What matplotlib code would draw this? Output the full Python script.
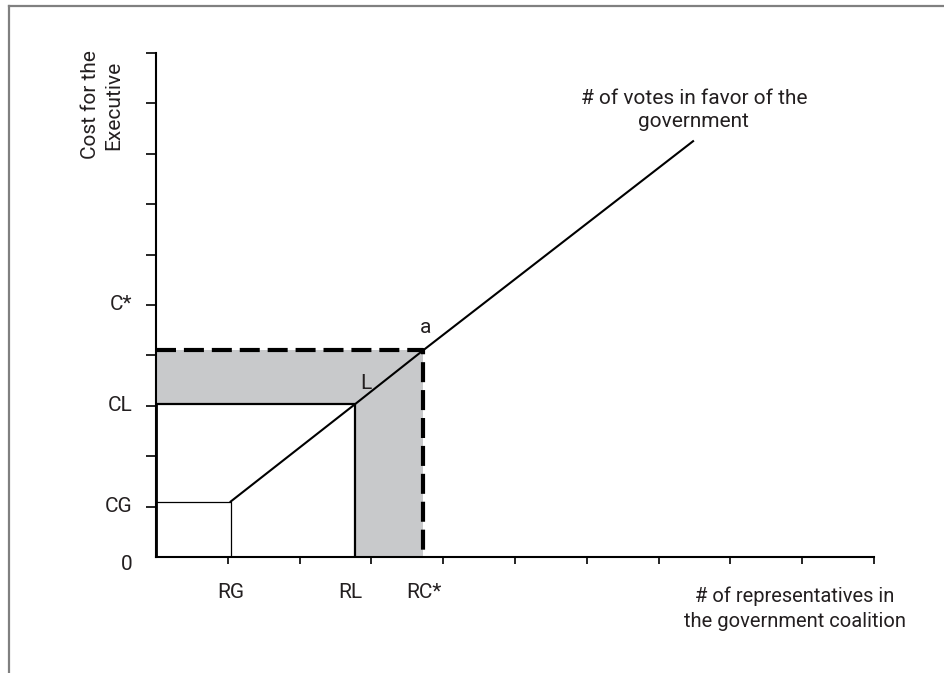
import matplotlib
matplotlib.use('Agg')
import matplotlib.pyplot as plt
from matplotlib.lines import Line2D

plt.rcParams['font.family'] = ['Roboto', 'DejaVu Sans']

# Key points of the diagram (data units)
RG, CG = 1.04, 1.1
RL, CL = 2.77, 3.03
RC, CSTAR = 3.72, 4.1
line_end = (7.48, 8.25)

# Cost curve points
curve_x = [RG, RL, RC, line_end[0]]
curve_y = [CG, CL, CSTAR, line_end[1]]

y_tick_pos = list(range(1, 11))
x_tick_pos = list(range(1, 11))
y_labels = {0: '0', 1: 'CG', 3: 'CL', 5: 'C*'}
x_labels = {RG: 'RG', 2.7: 'RL', 3.73: 'RC*'}

TXT = '#231f20'
GREY = '#c8c9cb'
FS = 15

fig = plt.figure(figsize=(9.44, 6.73), dpi=100)
ax = fig.add_axes([156 / 944, 1 - 557 / 673, 718 / 944, 504 / 673])
ax.set_xlim(0, 10)
ax.set_ylim(0, 10)

# grey L-shaped area between the two rectangles
ax.fill([0, RC, RC, RL, RL, 0], [CSTAR, CSTAR, 0, 0, CL, CL], color=GREY, lw=0)

# small box at RG/CG
ax.plot([0, RG, RG], [CG, CG, 0], color='black', lw=0.9)
# rectangle up to L
ax.plot([0, RL, RL], [CL, CL, 0], color='black', lw=1.6)
ax.plot([0, 0], [0, CL], color='black', lw=2.0)
# dashed lines to a
ax.plot([0, RC, RC], [CSTAR, CSTAR, 0], color='black', lw=3,
        linestyle=(0, (4.8, 1.9)), solid_capstyle='butt')
# votes curve
ax.plot(curve_x, curve_y, color='black', lw=1.5)

ax.text(2.92, 3.45, 'L', fontsize=FS, color=TXT, ha='center', va='center')
ax.text(3.75, 4.56, 'a', fontsize=FS, color=TXT, ha='center', va='center')
ax.text(7.49, 8.87, '# of votes in favor of the\ngovernment', fontsize=FS,
        color=TXT, ha='center', va='center', linespacing=1.3)

for k, s in y_labels.items():
    yy = k if k else -0.15
    ax.text(-0.33, yy, s, fontsize=FS, color=TXT, ha='right', va='center')
for k, s in x_labels.items():
    ax.text(k, -0.7, s, fontsize=FS, color=TXT, ha='center', va='center')

ax.text(8.9, -1.02, '# of representatives in\nthe government coalition',
        fontsize=14.5, color=TXT, ha='center', va='center', linespacing=1.4)
ax.text(-0.75, 8.97, 'Cost for the\nExecutive', fontsize=FS, color=TXT,
        ha='center', va='center', rotation=90, linespacing=1.25)

for s in ['top', 'right']:
    ax.spines[s].set_visible(False)
for s in ['left', 'bottom']:
    ax.spines[s].set_linewidth(1.5)
ax.set_xticks(x_tick_pos)
ax.set_yticks(y_tick_pos)
ax.set_xticklabels([])
ax.set_yticklabels([])
ax.tick_params(axis='x', length=5, width=1.2, direction='out')
ax.tick_params(axis='y', length=7, width=1.2, direction='out')

# grey frame around the figure (top and left only)
fig.add_artist(Line2D([9 / 944, 1], [1 - 6 / 673, 1 - 6 / 673], color='#808080', lw=1.6,
                      transform=fig.transFigure))
fig.add_artist(Line2D([9 / 944, 9 / 944], [0, 1 - 6 / 673], color='#808080', lw=1.6,
                      transform=fig.transFigure))

fig.savefig('out.png', dpi=100)
